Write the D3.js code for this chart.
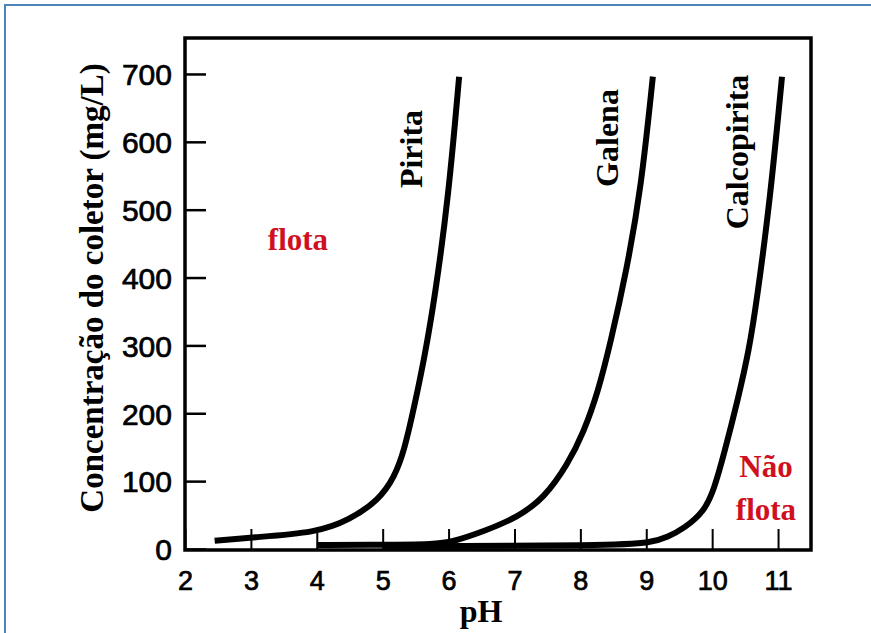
<!DOCTYPE html>
<html>
<head>
<meta charset="utf-8">
<script src="https://cdn.jsdelivr.net/npm/d3@7"></script>
<style>
  html, body { margin: 0; padding: 0; background: #fff; }
  svg { display: block; }
</style>
</head>
<body>
<svg id="chart" width="871" height="633"></svg>
<script>
// ---- data ----
const xTicks = [2, 3, 4, 5, 6, 7, 8, 9, 10, 11];
const yTicks = [0, 100, 200, 300, 400, 500, 600, 700];

const piritaPH   = [2.45, 3.0, 4.0, 4.5, 4.94, 5.18, 5.33, 5.48, 5.64, 5.79, 6.0, 6.16];
const piritaConc = [12,   17,  24,  43,  72,   106,  146,  210,  285,  370,  520, 696];

const galenaPH   = [4.0, 5.0, 5.8, 6.04, 6.54, 7.05, 7.45, 7.81, 8.05, 8.27, 8.46, 8.7, 8.92, 9.1];
const galenaConc = [6,   6,   7,   10,   26,   47,   75,   125,  172,  232,  305,  410, 530,  696];

const calcoPH    = [5.0, 8.5, 9.07, 9.33, 9.57, 9.88, 10.03, 10.18, 10.39, 10.56, 10.68, 10.88, 11.06];
const calcoConc  = [4,   5,   9,    18,   30,   55,   88,    140,   220,   293,   368,   515,   696];

const seriesNames = ["Pirita", "Galena", "Calcopirita"];
const regionLabels = ["flota", "Não", "flota"];
const xTitle = "pH";
const yTitle = "Concentração do coletor (mg/L)";

// ---- layout ----
const svg = d3.select("#chart");
const L = 185, R = 811, T = 38, B = 550;

const x = d3.scaleLinear().domain([2, 11.5]).range([L, R]);
const y = d3.scaleLinear().domain([-1.5, 753]).range([B, T]);

// outer blue document border
svg.append("rect")
  .attr("x", 5).attr("y", 5).attr("width", 900).attr("height", 700)
  .attr("fill", "none").attr("stroke", "#4f81bd").attr("stroke-width", 2);

// axes with inward ticks
const xAxis = d3.axisBottom(x).tickValues(xTicks).tickSize(-21).tickPadding(0).tickFormat(d3.format("d"));
const yAxis = d3.axisLeft(y).tickValues(yTicks).tickSize(-21).tickPadding(13).tickFormat(d3.format("d"));

const gx = svg.append("g").attr("transform", `translate(0,${B})`).call(xAxis);
const gy = svg.append("g").attr("transform", `translate(${L},0)`).call(yAxis);

[gx, gy].forEach(g => {
  g.select(".domain").remove();
  g.selectAll(".tick line").attr("stroke", "#000");
  g.selectAll(".tick text")
    .attr("fill", "#000")
    .attr("stroke", "#000").attr("stroke-width", 0.7)
    .style("font-family", "'Liberation Sans', Arial, Helvetica, sans-serif");
});
gx.selectAll(".tick line").attr("stroke-width", 2);
gy.selectAll(".tick line").attr("stroke-width", 2.5);
gx.selectAll(".tick text").attr("font-size", 27).attr("y", 40).attr("dy", 0);
gy.selectAll(".tick text").attr("font-size", 30).attr("dy", "0.36em");

// plot frame
svg.append("rect")
  .attr("x", L).attr("y", T).attr("width", R - L).attr("height", B - T)
  .attr("fill", "none").attr("stroke", "#000").attr("stroke-width", 3.5);

// curves
const line = d3.line()
  .x(d => x(d[0])).y(d => y(d[1]))
  .curve(d3.curveBasis);

const series = [
  d3.zip(piritaPH, piritaConc),
  d3.zip(galenaPH, galenaConc),
  d3.zip(calcoPH, calcoConc)
];

svg.append("g").selectAll("path").data(series).join("path")
  .attr("d", line)
  .attr("fill", "none").attr("stroke", "#000").attr("stroke-width", 6)
  .attr("stroke-linecap", "butt").attr("stroke-linejoin", "round");

const serif = "'Liberation Serif', 'Times New Roman', Times, serif";

// curve labels (rotated)
const curveLabelPos = [[422, 149], [618, 138], [748, 152]];
svg.append("g").selectAll("text").data(seriesNames).join("text")
  .attr("transform", (d, i) => `translate(${curveLabelPos[i][0]},${curveLabelPos[i][1]}) rotate(-90)`)
  .attr("text-anchor", "middle")
  .attr("font-family", serif).attr("font-weight", "bold").attr("font-size", 32)
  .attr("fill", "#000")
  .text(d => d);

// region labels
const regionPos = [[298, 250], [766, 477], [766, 520]];
svg.append("g").selectAll("text").data(regionLabels).join("text")
  .attr("x", (d, i) => regionPos[i][0]).attr("y", (d, i) => regionPos[i][1])
  .attr("text-anchor", "middle")
  .attr("font-family", serif).attr("font-weight", "bold").attr("font-size", 31)
  .attr("fill", "#d0101e")
  .text(d => d);

// axis titles
svg.append("text")
  .attr("x", 481).attr("y", 622)
  .attr("text-anchor", "middle")
  .attr("font-family", serif).attr("font-weight", "bold").attr("font-size", 32)
  .attr("fill", "#000")
  .text(xTitle);

svg.append("text")
  .attr("transform", "translate(103,288) rotate(-90)")
  .attr("text-anchor", "middle")
  .attr("font-family", serif).attr("font-weight", "bold").attr("font-size", 33)
  .attr("fill", "#000")
  .text(yTitle);
</script>
</body>
</html>
